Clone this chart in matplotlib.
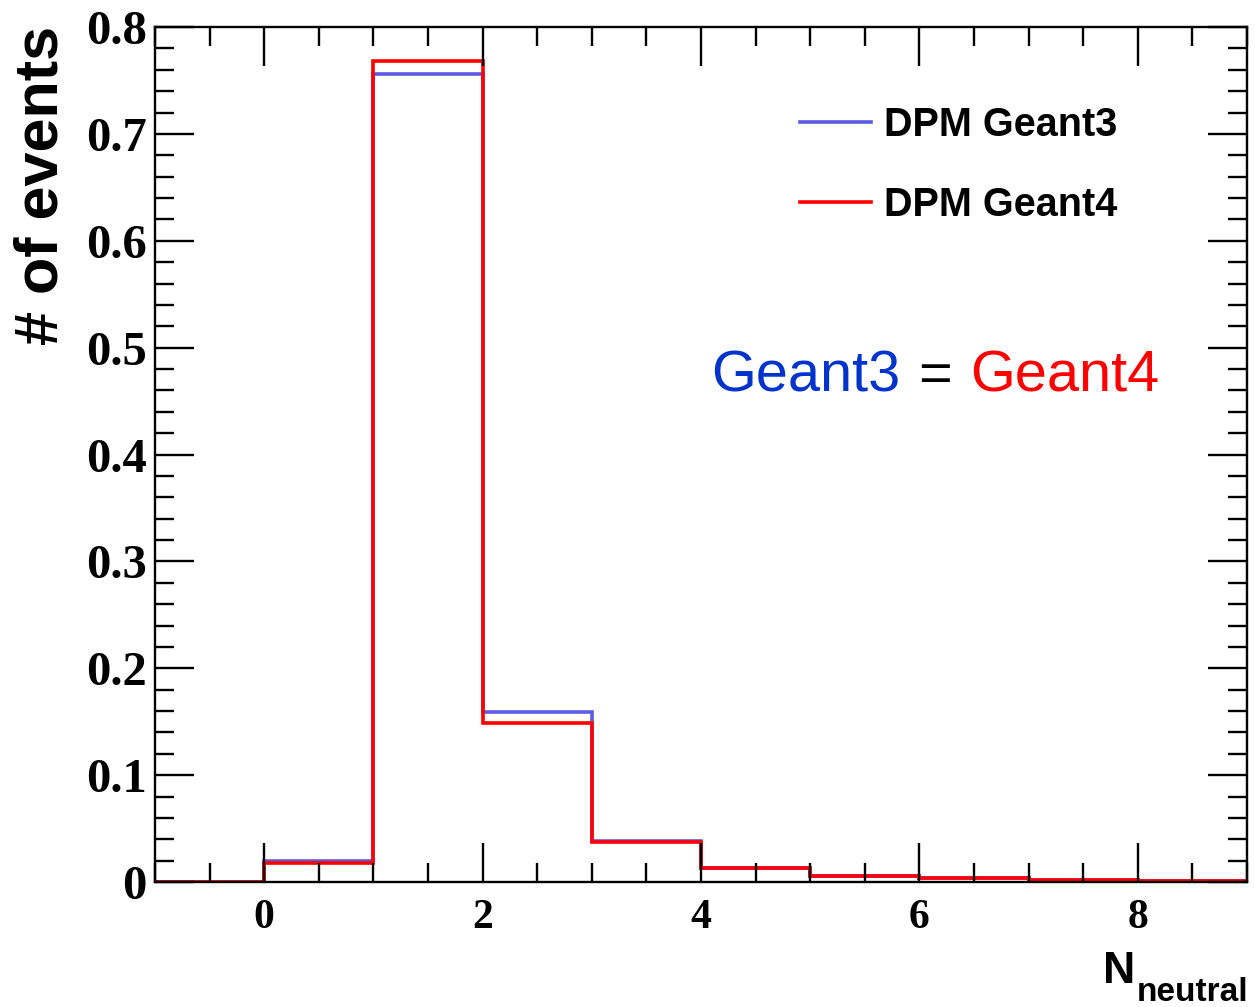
import numpy as np
import matplotlib
matplotlib.use("Agg")
import matplotlib.pyplot as plt
from matplotlib.ticker import MultipleLocator

# -----------------------
# Data (bin edges and normalised counts)
# -----------------------
bin_edges = [-1, 0, 1, 2, 3, 4, 5, 6, 7, 8, 9]
geant3 = [0.0, 0.020, 0.756, 0.159, 0.038, 0.013, 0.006, 0.004, 0.002, 0.001]
geant4 = [0.0, 0.0175, 0.768, 0.149, 0.037, 0.013, 0.0058, 0.0038, 0.002, 0.001]
labels = ["DPM Geant3", "DPM Geant4"]
xtick_vals = [0, 2, 4, 6, 8]
ytick_vals = [0, 0.1, 0.2, 0.3, 0.4, 0.5, 0.6, 0.7, 0.8]

W, H = 1255, 1007
fig = plt.figure(figsize=(W / 100, H / 100), dpi=100)

# axes box in pixels: left 155, right 1247, top 27, bottom 882
ax = fig.add_axes([155 / W, (H - 882) / H, (1247 - 155) / W, (882 - 27) / H])

blue = "#5c5ce0"
red = "#ff0000"
ax.stairs(geant3, bin_edges, baseline=None, color=blue, lw=2.6, label=labels[0])
ax.stairs(geant4, bin_edges, baseline=None, color=red, lw=2.6, label=labels[1])

ax.set_xlim(-1, 9)
ax.set_ylim(0, 0.8)

# ROOT-like ticks on all four sides, pointing inwards
ax.xaxis.set_minor_locator(MultipleLocator(0.5))
ax.yaxis.set_minor_locator(MultipleLocator(0.02))
ax.tick_params(which="both", direction="in", top=True, right=True, width=1.7, color="black")
ax.tick_params(which="major", length=28)
ax.tick_params(which="minor", length=14)
ax.tick_params(axis="x", which="major", pad=12)
ax.tick_params(axis="y", which="major", pad=6)
for sp in ax.spines.values():
    sp.set_linewidth(1.7)

serif = ["Liberation Serif", "DejaVu Serif"]
ax.set_xticks(xtick_vals)
ax.set_xticklabels([str(v) for v in xtick_vals], fontsize=30, fontweight="bold", family=serif)
ax.set_yticks(ytick_vals)
ax.set_yticklabels(["0"] + [f"{v:.1f}" for v in ytick_vals[1:]], fontsize=35, fontweight="bold", family=serif)

sans = ["Liberation Sans", "DejaVu Sans"]

# legend
leg = ax.legend(loc="upper left", bbox_to_anchor=((800 - 155) / (1247 - 155), 1 - (106 - 27) / (882 - 27)),
                frameon=False, prop={"family": sans, "weight": "bold", "size": 28.5},
                handlelength=1.8, handletextpad=0.33, labelspacing=1.07, borderpad=0, borderaxespad=0)
for line in leg.get_lines():
    line.set_linewidth(2.6)

# annotation
yb = (H - 392) / H
fig.text(900 / W, yb, "Geant3", color="#0033cc", fontsize=41.5, family=sans, ha="right", va="baseline")
fig.text(935 / W, yb, "=", color="black", fontsize=41.5, family=sans, ha="center", va="baseline")
fig.text(970 / W, yb, "Geant4", color="#ff0000", fontsize=41.5, family=sans, ha="left", va="baseline")

# axis titles
fig.text(42 / W, (H - 185) / H, "# of events", rotation=90, fontsize=44, fontweight="bold",
         family=sans, ha="center", va="center")
fig.text(1135 / W, (H - 983) / H, "N", fontsize=32, fontweight="bold", family=sans, ha="right", va="baseline")
fig.text(1137 / W, (H - 1001) / H, "neutral", fontsize=24, fontweight="bold", family=sans, ha="left", va="baseline")

fig.savefig("out.png", dpi=100)
